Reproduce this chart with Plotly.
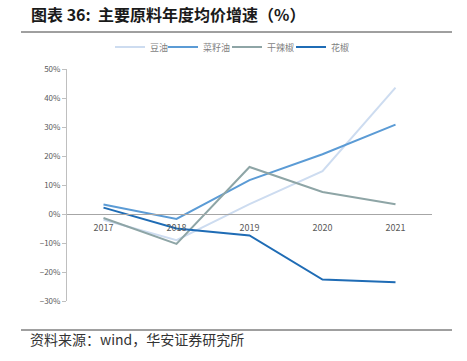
import plotly.graph_objects as go

years = ["2017", "2018", "2019", "2020", "2021"]
soybean_oil = [-2.0, -9.0, 3.4, 14.8, 43.6]
rapeseed_oil = [3.3, -1.7, 11.7, 20.6, 30.8]
dried_chili = [-1.4, -10.3, 16.2, 7.6, 3.4]
sichuan_pepper = [2.2, -5.0, -7.4, -22.6, -23.5]

series_names = ["豆油", "菜籽油", "干辣椒", "花椒"]
series_values = [soybean_oil, rapeseed_oil, dried_chili, sichuan_pepper]
series_colors = ["#cddcf0", "#5b9bd5", "#8ea5a6", "#1f6cb5"]
legend_text_x = [150, 203, 267, 331]   # pixel where each legend label begins

W, H = 467, 361
L, R, T, B = 67, 467 - 432, 69, 361 - 301

font = "Noto Sans CJK SC, Noto Sans, sans-serif"

fig = go.Figure()
legend_layout = {}
for i, (name, vals, col) in enumerate(zip(series_names, series_values, series_colors)):
    key = "legend" if i == 0 else f"legend{i + 1}"
    fig.add_trace(go.Scatter(x=years, y=vals, name=name, mode="lines",
                             line=dict(color=col, width=2), legend=key))
    legend_layout[key] = dict(
        orientation="h", xref="container", yref="container",
        x=(legend_text_x[i] - 40) / W, xanchor="left",
        y=1 - 47 / H, yanchor="middle",
        font=dict(size=9, color="#7f7f7f"), itemwidth=30,
        bgcolor="rgba(0,0,0,0)")

def px_x(px):
    return (px - L) / (W - L - R)

def px_y(py):
    return 1 - (py - T) / (H - T - B)

fig.update_layout(
    width=W, height=H,
    margin=dict(l=L, r=R, t=T, b=B, autoexpand=False),
    paper_bgcolor="white", plot_bgcolor="white",
    font=dict(family=font, color="#595959", size=8),
    showlegend=True,
    xaxis=dict(type="category", anchor="free", position=30 / 80,
               showline=True, linecolor="#a6a6a6", linewidth=1,
               showgrid=False, ticks="", ticklabelstandoff=5,
               tickfont=dict(size=9, color="#595959"),
               range=[-0.5, 4.5]),
    yaxis=dict(range=[-30, 50], dtick=10, ticksuffix="%",
               showline=True, linecolor="#bfbfbf", linewidth=1,
               showgrid=False, zeroline=False, ticks="outside", ticklen=4,
               tickcolor="#bfbfbf", tickfont=dict(size=8, color="#595959")),
    **legend_layout,
)

fig.add_annotation(text="<b>图表 36:  主要原料年度均价增速（%）</b>", xref="paper", yref="paper",
                   x=px_x(29), y=px_y(14),
                   xanchor="left", yanchor="middle", showarrow=False,
                   font=dict(size=16, color="#1a1a1a", family=font))
fig.add_annotation(text="资料来源：wind，华安证券研究所", xref="paper", yref="paper",
                   x=px_x(28), y=px_y(339),
                   xanchor="left", yanchor="middle", showarrow=False,
                   font=dict(size=14, color="#333333", family=font))

for yy in (32, 330):
    fig.add_shape(type="line", xref="paper", yref="paper",
                  x0=px_x(21), x1=px_x(452), y0=px_y(yy), y1=px_y(yy),
                  line=dict(color="#404040", width=1))

fig.write_html("out.html", config={"displayModeBar": False},
               post_script="document.body.style.margin='0';")
